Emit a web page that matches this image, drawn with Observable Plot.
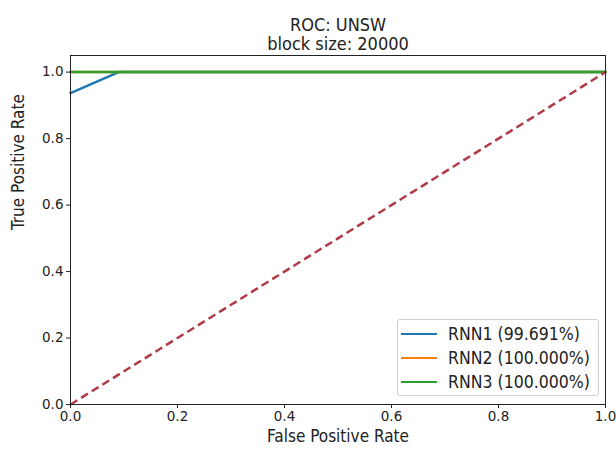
<!DOCTYPE html>
<html>
<head>
<meta charset="utf-8">
<script src="https://cdn.jsdelivr.net/npm/d3@7"></script>
<script src="https://cdn.jsdelivr.net/npm/@observablehq/plot@0.6"></script>
<style>
  body { margin: 0; background: #fff; }
  #wrap { position: relative; width: 616px; height: 457px; font-family: "DejaVu Sans", sans-serif; }
  #legend { position: absolute; left: 397px; top: 319px; width: 200px; height: 75px;
            border: 1px solid #d0d0d0; border-radius: 3px; background: rgba(255,255,255,0.85); }
  .row { position: absolute; left: 0; height: 20px; display: flex; align-items: center;
         font-family: "DejaVu Sans Condensed", "DejaVu Sans", sans-serif; font-stretch: condensed;
         font-size: 17.5px; color: #222; white-space: nowrap; }
  .sw { width: 36px; height: 0; border-top: 2.5px solid; margin-left: 3px; margin-right: 11px; }
</style>
</head>
<body>
<div id="wrap"></div>
<script>
const titleLines = ["ROC: UNSW", "block size: 20000"];
const xLabel = "False Positive Rate";
const yLabel = "True Positive Rate";
const tickValues = [0, 0.2, 0.4, 0.6, 0.8, 1.0];

const seriesNames = ["RNN1 (99.691%)", "RNN2 (100.000%)", "RNN3 (100.000%)"];
const seriesColors = ["#1f77b4", "#ff7f0e", "#2ca02c"];

const rnn1Fpr = [0, 0.09, 1];
const rnn1Tpr = [0.937, 1, 1];
const rnn2Fpr = [0, 1];
const rnn2Tpr = [1, 1];
const rnn3Fpr = [0, 1];
const rnn3Tpr = [1, 1];
const chanceFpr = [0, 1];
const chanceTpr = [0, 1];

const toPts = (xs, ys) => xs.map((x, i) => ({x, y: ys[i]}));
const series = [toPts(rnn1Fpr, rnn1Tpr), toPts(rnn2Fpr, rnn2Tpr), toPts(rnn3Fpr, rnn3Tpr)];
const chance = toPts(chanceFpr, chanceTpr);

const fmt = d3.format(".1f");
const condensed = "DejaVu Sans Condensed, DejaVu Sans, sans-serif";

const chart = Plot.plot({
  width: 616,
  height: 457,
  marginLeft: 70,
  marginRight: 11,
  marginTop: 55,
  marginBottom: 53,
  style: {fontFamily: "DejaVu Sans, sans-serif", fontSize: "13.5px", color: "#222", background: "#fff"},
  x: {domain: [0, 1]},
  y: {domain: [0, 1.05]},
  marks: [
    ...series.map((d, i) => Plot.line(d, {x: "x", y: "y", stroke: seriesColors[i], strokeWidth: 2.5})),
    Plot.line(chance, {x: "x", y: "y", stroke: "#b03a48", strokeWidth: 2.5, strokeDasharray: "8,4.5", strokeLinecap: "butt"}),
    Plot.frame({stroke: "#222", strokeWidth: 1}),
    Plot.axisX({ticks: tickValues, tickFormat: fmt, tickSize: 4, tickPadding: 3, label: null, fontSize: 13.5}),
    Plot.axisY({ticks: tickValues, tickFormat: fmt, tickSize: 4, tickPadding: 3, label: null, fontSize: 13.5}),
    Plot.text([xLabel], {text: d => d, frameAnchor: "bottom", dy: 37, fontSize: 17, fontFamily: condensed, fontStretch: "condensed"}),
    Plot.text([yLabel], {text: d => d, frameAnchor: "left", rotate: -90, dx: -52, fontSize: 17, fontFamily: condensed, fontStretch: "condensed"}),
    Plot.text([titleLines[0]], {text: d => d, frameAnchor: "top", dy: -37, fontSize: 18, fontFamily: condensed, fontStretch: "condensed"}),
    Plot.text([titleLines[1]], {text: d => d, frameAnchor: "top", dy: -18, fontSize: 18, fontFamily: condensed, fontStretch: "condensed"})
  ]
});

const wrap = document.getElementById("wrap");
wrap.appendChild(chart);

const legend = document.createElement("div");
legend.id = "legend";
seriesNames.forEach((name, i) => {
  const row = document.createElement("div");
  row.className = "row";
  row.style.top = (4 + i * 24) + "px";
  const sw = document.createElement("span");
  sw.className = "sw";
  sw.style.borderTopColor = seriesColors[i];
  const t = document.createElement("span");
  t.textContent = name;
  row.appendChild(sw);
  row.appendChild(t);
  legend.appendChild(row);
});
wrap.appendChild(legend);
</script>
</body>
</html>
